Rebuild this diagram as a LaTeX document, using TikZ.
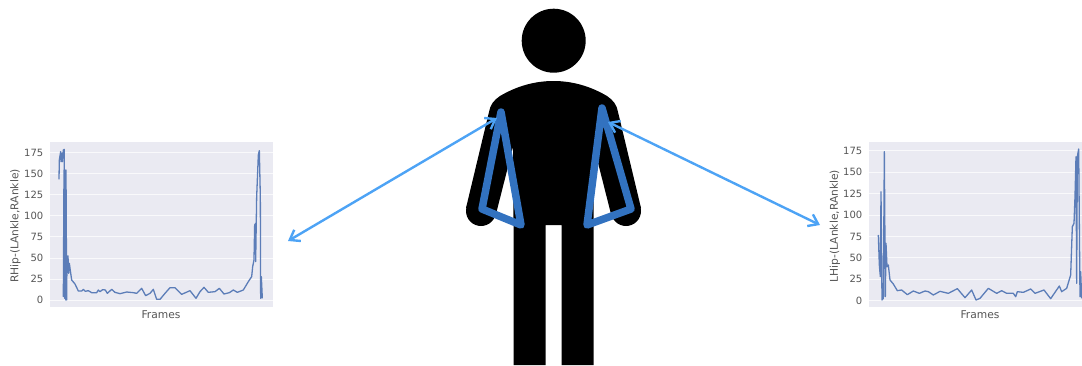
\documentclass[tikz,border=0pt]{standalone}
\usepackage{fontspec}
\setmainfont{DejaVu Sans}
\usepackage{xcolor}
\usetikzlibrary{arrows.meta, positioning}
\definecolor{panelgray}{RGB}{234, 234, 242}
\definecolor{tracemid}{RGB}{92, 125, 184}
\definecolor{limbblue}{RGB}{50, 114, 192}
\definecolor{linkblue}{RGB}{77, 163, 245}
\definecolor{labelgray}{RGB}{85, 85, 85}

\begin{document}
\begin{tikzpicture}[
  x=1pt, y=-1pt,
  every node/.style={font=\fontsize{10}{12}\selectfont, text=labelgray, inner sep=0pt},
  axislabel/.style={font=\fontsize{10.7}{12}\selectfont},
  panel/.style={fill=panelgray, draw=none},
  gridline/.style={draw=white!70!panelgray, line width=1pt},
  trace/.style={draw=tracemid, line width=1.3pt, line join=round},
  hand/.style={circle, fill=black, minimum size=30pt},
  limb/.style={draw=limbblue, line width=7.5pt, line join=round},
  link/.style={draw=linkblue, line width=2.4pt, {Straight Barb[length=9pt,width=13pt]}-{Straight Barb[length=9pt,width=13pt]}}
]
\useasboundingbox (0,0) rectangle (1082,365);

% Left plot
\node[panel, minimum width=222.7pt, minimum height=165.3pt] (rpanel) at (161.4,224.3) {};
\foreach \val/\ypos in {0/300,25/279,50/258,75/236.9,100/215.9,125/194.8,150/173.7,175/152.7}{
  \draw[gridline] (50,\ypos) -- (272.7,\ypos);
  \node[anchor=east] (rtick\val) at (43.5,\ypos) {\val};
}
\node[axislabel, rotate=90] (rylabel) at (15.5,226) {RHip-(LAnkle,RAnkle)};
\node[axislabel] (rxlabel) at (161,315) {Frames};

% Right plot
\node[panel, minimum width=213pt, minimum height=164.7pt] (lpanel) at (975.5,224.3) {};
\foreach \val/\ypos in {0/300.7,25/279.3,50/257.9,75/236.5,100/215,125/193.6,150/172.2,175/150.7}{
  \draw[gridline] (869,\ypos) -- (1082,\ypos);
  \node[anchor=east] (ltick\val) at (862.5,\ypos) {\val};
}
\node[axislabel, rotate=90] (lylabel) at (835,226) {LHip-(LAnkle,RAnkle)};
\node[axislabel] (lxlabel) at (980,315) {Frames};

% Traces, read off in 3x crop units
\begin{scope}[shift={(0,130)}, xscale=1/3, yscale=1/3]
  \draw[trace] (177,148) -- (178,90) -- (182,65) -- (183,95) -- (186,70) -- (187,95) -- (190,60) -- (193,58)
    -- (190,500) -- (192,120) -- (194,505) -- (195,120) -- (197,510) -- (198,120) -- (200,510) -- (201,380)
    -- (204,378) -- (206,430) -- (208,400) -- (215,450) -- (225,462) -- (235,483) -- (245,483) -- (250,478)
    -- (256,484) -- (265,482) -- (275,488) -- (290,488) -- (295,480) -- (300,485) -- (308,479) -- (316,480)
    -- (322,490) -- (335,478) -- (345,487) -- (360,491) -- (380,486) -- (400,488) -- (410,490) -- (425,475)
    -- (437,497) -- (450,490) -- (460,478) -- (470,508) -- (480,508) -- (495,490) -- (510,473) -- (525,473)
    -- (545,493) -- (570,482) -- (588,505) -- (600,485) -- (612,472) -- (625,487) -- (645,485) -- (658,475)
    -- (672,492) -- (688,488) -- (700,480) -- (712,487) -- (730,480) -- (745,455) -- (755,440) -- (758,410)
    -- (762,390) -- (764,285) -- (767,280) -- (767,395) -- (770,200) -- (775,75) -- (778,62) -- (781,200)
    -- (782,505) -- (784,440) -- (787,505);
\end{scope}
\begin{scope}[shift={(820,130)}, xscale=1/3, yscale=1/3]
  \draw[trace] (175,315) -- (178,405) -- (181,440) -- (183,185) -- (186,510) -- (190,505) -- (193,65)
    -- (196,500) -- (198,340) -- (201,410) -- (205,405) -- (210,450) -- (220,462) -- (232,482) -- (245,480)
    -- (262,494) -- (280,483) -- (298,490) -- (315,483) -- (325,485) -- (340,495) -- (360,484) -- (385,490)
    -- (412,476) -- (435,503) -- (455,480) -- (468,510) -- (480,505) -- (505,475) -- (530,490) -- (545,482)
    -- (560,490) -- (580,490) -- (587,500) -- (592,485) -- (610,487) -- (632,477) -- (645,490) -- (672,480)
    -- (692,506) -- (718,468) -- (725,485) -- (740,475) -- (752,435) -- (757,290) -- (762,280) -- (765,200)
    -- (768,80) -- (770,460) -- (772,80) -- (776,57) -- (780,500) -- (782,425) -- (785,505);
\end{scope}

% Figure: head, hands and body with legs
\node[circle, fill=black, minimum size=64pt] (head) at (553.7,40.7) {};
\node[hand] (rhand) at (481,211) {};
\node[hand] (lhand) at (626,211) {};
\fill[black] (513.5,365) -- (513.5,225) -- (513,147) -- (496,214) -- (466,208)
  -- (489,112) .. controls (490,105) and (494,100) .. (500,96)
  .. controls (517,86) and (535,81) .. (553.5,81) .. controls (572,81) and (590,86) .. (607,96)
  .. controls (613,100) and (617,105) .. (618,112)
  -- (641,208) -- (611,214) -- (594,147) -- (593.5,225) -- (593.5,365) -- (561.7,365) -- (561.7,225)
  -- (545.7,225) -- (545.7,365) -- cycle;

% Blue limb triangles
\draw[limb] (501,112) -- (482,209) -- (521,225) -- cycle;
\draw[limb] (602,108) -- (587,225) -- (631,209) -- cycle;

% Links from plots to shoulders
\coordinate (rplotend) at (288,241);
\coordinate (rshoulder) at (497,118);
\coordinate (lplotend) at (820,225);
\coordinate (lshoulder) at (608,122);
\draw[link] (rplotend) -- (rshoulder);
\draw[link] (lshoulder) -- (lplotend);

\end{tikzpicture}
\end{document}
